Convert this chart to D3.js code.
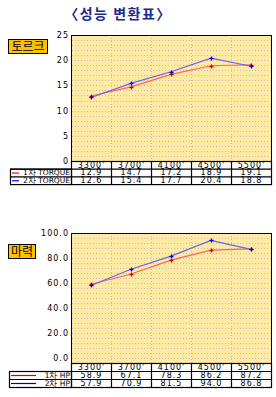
<!DOCTYPE html>
<html>
<head>
<meta charset="utf-8">
<title>성능 변환표</title>
<script src="https://d3js.org/d3.v7.min.js"></script>
<style>
  body { margin:0; background:#fff; }
  svg text { font-family:"DejaVu Sans", sans-serif; }
</style>
</head>
<body>
<script>
// values
var categories = ["3300'", "3700'", "4100'", "4500'", "5500'"];
var torque1 = [12.9, 14.7, 17.2, 18.9, 19.1];
var torque2 = [12.6, 15.4, 17.7, 20.4, 18.8];
var hp1 = [58.9, 67.1, 78.3, 86.2, 87.2];
var hp2 = [57.9, 70.9, 81.5, 94.0, 86.8];
var torqueTicks = [0, 5, 10, 15, 20, 25];
var hpTicks = [0, 20, 40, 60, 80, 100];
var torqueLabels = ["1차 TORQUE", "2차 TORQUE"];
var hpLabels = ["1차  HP", "2차  HP"];

var svg = d3.select("body").append("svg")
  .attr("width", 276).attr("height", 397);

svg.append("text")
  .attr("x", 118).attr("y", 19)
  .attr("text-anchor", "middle")
  .style("font-family", "'Noto Sans CJK KR', sans-serif")
  .style("font-weight", "bold")
  .style("font-size", "14px")
  .style("letter-spacing", "1.5px")
  .attr("fill", "#1c2a8c")
  .text("〈성능  변환표〉");

function drawChart(o) {
  var g = svg.append("g");
  var x = d3.scaleBand().domain(o.cats).range([71, 271]);
  var y = d3.scaleLinear().domain([0, o.max]).range([o.zero, o.top]);

  // plot background
  g.append("rect")
    .attr("x", 71).attr("y", o.top)
    .attr("width", 200).attr("height", o.bottom - o.top)
    .attr("fill", "#ffeaa2");

  // dotted grid
  g.selectAll(".hg").data(d3.range(0, o.max, o.minor))
    .enter().append("line")
    .attr("x1", 72).attr("x2", 270)
    .attr("y1", function(d){ return Math.round(y(d)) + 0.5; })
    .attr("y2", function(d){ return Math.round(y(d)) + 0.5; })
    .attr("stroke", "#c4bccb").attr("stroke-dasharray", "1,2");
  g.selectAll(".vg").data(o.cats.slice(1))
    .enter().append("line")
    .attr("x1", function(d){ return x(d) + 0.5; })
    .attr("x2", function(d){ return x(d) + 0.5; })
    .attr("y1", o.top).attr("y2", o.bottom)
    .attr("stroke", "#c4bccb").attr("stroke-dasharray", "1,2");

  g.append("rect")
    .attr("x", 71.5).attr("y", o.top + 0.5)
    .attr("width", 200).attr("height", o.bottom - o.top)
    .attr("fill", "none").attr("stroke", "#000");

  // y axis
  var ax = g.append("g").attr("transform", "translate(69,0)")
    .call(d3.axisLeft(y).tickValues(o.ticks).tickSize(0).tickPadding(0)
      .tickFormat(o.fmt));
  ax.select(".domain").remove();
  ax.selectAll("text")
    .style("font-family", "'DejaVu Sans', sans-serif")
    .style("letter-spacing", "1px")
    .style("font-size", "8px").attr("fill", "#000");

  // series lines and markers
  var lineColors = ["#ff6464", "#6464ff"];
  var markColors = ["#e00000", "#0000ff"];
  var line = d3.line()
    .x(function(d, i){ return x(o.cats[i]) + x.bandwidth() / 2; })
    .y(function(d){ return y(d); });
  [0, 1].forEach(function(k) {
    g.append("path").datum(o.series[k])
      .attr("d", line).attr("fill", "none")
      .attr("stroke", lineColors[k]).attr("stroke-width", 1.2);
  });
  [0, 1].forEach(function(k) {
    var m = g.selectAll(".m" + k).data(o.series[k]).enter().append("g")
      .attr("transform", function(d, i){
        return "translate(" + (Math.round(x(o.cats[i]) + x.bandwidth() / 2) + 0.5) + "," + (Math.round(y(d)) + 0.5) + ")";
      });
    m.append("line").attr("x1", -2).attr("x2", 2).attr("stroke", markColors[k]).attr("stroke-width", 1.3);
    m.append("line").attr("y1", -2).attr("y2", 2).attr("stroke", markColors[k]).attr("stroke-width", 1.3);
  });

  // name box
  g.append("rect")
    .attr("x", 8.5).attr("y", o.boxY + 0.5)
    .attr("width", o.boxW).attr("height", 14)
    .attr("fill", "#ffc000").attr("stroke", "#000");
  g.append("text")
    .attr("x", 8.5 + o.boxW / 2).attr("y", o.boxY + 12)
    .attr("text-anchor", "middle")
    .style("font-family", "'Noto Sans CJK KR', sans-serif")
    .style("font-size", "12px").attr("fill", "#000")
    .text(o.name);

  // data table
  var rows = [o.bottom, o.bottom + o.rowH, o.bottom + 2 * o.rowH, o.bottom + 3 * o.rowH];
  var t = g.append("g").attr("stroke", "#000").attr("stroke-width", 1.2);
  t.append("rect").attr("x", 71.5).attr("y", rows[0] + 0.5)
    .attr("width", 200).attr("height", rows[3] - rows[0]).attr("fill", "none");
  t.append("rect").attr("x", o.tableX + 0.5).attr("y", rows[1] + 0.5)
    .attr("width", 71 - o.tableX).attr("height", rows[3] - rows[1]).attr("fill", "none");
  [rows[1], rows[2]].forEach(function(r) {
    t.append("line").attr("x1", o.tableX).attr("x2", 272)
      .attr("y1", r + 0.5).attr("y2", r + 0.5);
  });
  o.cats.slice(1).forEach(function(c) {
    t.append("line").attr("x1", x(c) + 0.5).attr("x2", x(c) + 0.5)
      .attr("y1", rows[0]).attr("y2", rows[3]);
  });

  var tf = function(sel) {
    sel.attr("text-anchor", "middle").style("font-size", "8px")
      .style("letter-spacing", "1px").attr("fill", "#000");
  };
  g.selectAll(".cat").data(o.cats).enter().append("text")
    .attr("x", function(d){ return x(d) + x.bandwidth() / 2 + 0.5; })
    .attr("y", rows[0] + o.rowH - 1.2).text(function(d){ return d; }).call(tf);
  [0, 1].forEach(function(k) {
    g.selectAll(".v" + k).data(o.series[k]).enter().append("text")
      .attr("x", function(d, i){ return x(o.cats[i]) + x.bandwidth() / 2 + 0.5; })
      .attr("y", rows[k + 1] + o.rowH - 1.2)
      .text(function(d){ return d.toFixed(1); }).call(tf);
    g.append("line")
      .attr("x1", o.tableX + 2).attr("x2", o.legLineEnd)
      .attr("y1", rows[k + 1] + o.rowH / 2 + 0.5).attr("y2", rows[k + 1] + o.rowH / 2 + 0.5)
      .attr("stroke", o.legColors[k]).attr("stroke-width", 1.2);
    g.append("text")
      .attr("x", 70).attr("y", rows[k + 1] + o.rowH - 1.2)
      .attr("text-anchor", "end")
      .style("font-size", "7.5px").attr("fill", "#000")
      .text(o.labels[k]);
  });
}

drawChart({
  cats: categories, series: [torque1, torque2], labels: torqueLabels,
  max: 25, minor: 1, ticks: torqueTicks, fmt: d3.format("d"),
  top: 35, zero: 161, bottom: 161, rowH: 7.7,
  boxY: 39, boxW: 39, name: "토르크",
  tableX: 10, legLineEnd: 19, legColors: ["#ff0000", "#0000ff"]
});

drawChart({
  cats: categories, series: [hp1, hp2], labels: hpLabels,
  max: 100, minor: 4, ticks: hpTicks, fmt: d3.format(".1f"),
  top: 233, zero: 357.7, bottom: 363, rowH: 8,
  boxY: 244, boxW: 27, name: "마력",
  tableX: 9, legLineEnd: 36, legColors: ["#dd0000", "#0000bb"]
});
</script>
</body>
</html>
